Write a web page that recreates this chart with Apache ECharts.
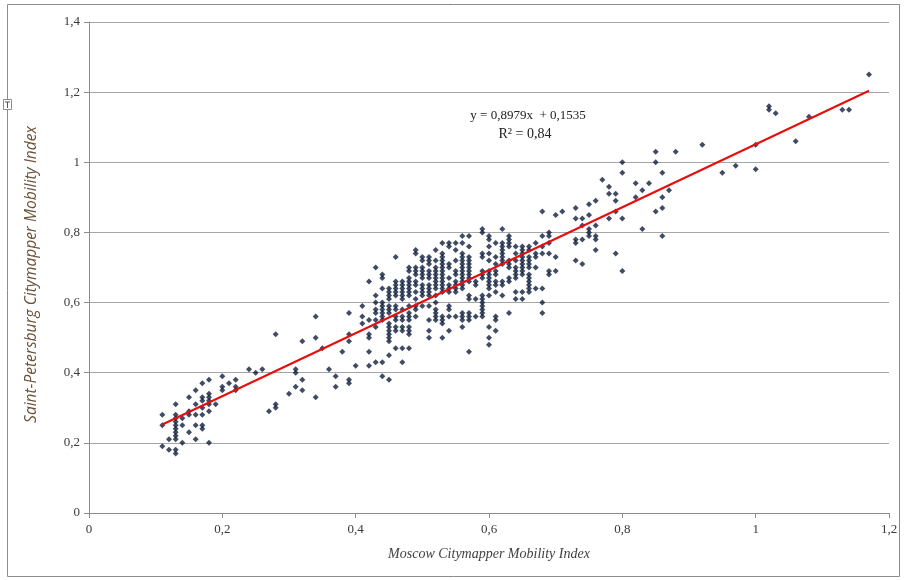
<!DOCTYPE html>
<html>
<head>
<meta charset="utf-8">
<script src="https://cdn.jsdelivr.net/npm/echarts@6/dist/echarts.min.js"></script>
<style>html,body{margin:0;padding:0;background:#fff;}#c{width:906px;height:580px;}</style>
</head>
<body>
<div id="c"></div>
<script>
// Moscow index values (x columns) and the Saint-Petersburg values observed at each
const moscowX = [0.11,0.12,0.13,0.14,0.15,0.16,0.17,0.18,0.19,0.20,0.21,0.22,0.24,0.25,0.26,0.27,0.28,0.30,0.31,0.32,0.34,0.35,0.36,0.37,0.38,0.39,0.40,0.41,0.42,0.43,0.44,0.45,0.46,0.47,0.48,0.49,0.50,0.51,0.52,0.53,0.54,0.55,0.56,0.57,0.58,0.59,0.60,0.61,0.62,0.63,0.64,0.65,0.66,0.67,0.68,0.69,0.70,0.71,0.73,0.74,0.75,0.76,0.77,0.78,0.79,0.80,0.82,0.83,0.84,0.85,0.86,0.87,0.88,0.92,0.95,0.97,1.00,1.02,1.03,1.06,1.08,1.13,1.14,1.17];
const spbY = [
 [0.28,0.25,0.19],
 [0.21,0.18],
 [0.31,0.28,0.27,0.26,0.25,0.24,0.23,0.22,0.21,0.18,0.17],
 [0.27,0.25,0.20],
 [0.33,0.29,0.28,0.23],
 [0.35,0.31,0.28,0.25,0.21],
 [0.37,0.33,0.32,0.30,0.28,0.25,0.24],
 [0.38,0.34,0.33,0.32,0.31,0.29,0.20],
 [0.31],
 [0.39,0.36,0.35],
 [0.37],
 [0.38,0.36,0.35],
 [0.41],
 [0.40],
 [0.41],
 [0.29],
 [0.51,0.31,0.30],
 [0.34],
 [0.41,0.40,0.36],
 [0.49,0.38,0.35],
 [0.56,0.50,0.33],
 [0.47],
 [0.41],
 [0.39,0.36],
 [0.46],
 [0.57,0.51,0.49,0.38,0.37],
 [0.42],
 [0.59,0.56,0.54],
 [0.66,0.55,0.51,0.50,0.46,0.42],
 [0.70,0.62,0.60,0.58,0.57,0.55,0.53,0.43],
 [0.68,0.67,0.64,0.60,0.59,0.58,0.57,0.56,0.55,0.43,0.39],
 [0.64,0.63,0.62,0.61,0.59,0.58,0.57,0.54,0.53,0.52,0.51,0.50,0.49,0.45,0.38],
 [0.73,0.66,0.65,0.64,0.63,0.62,0.59,0.58,0.56,0.55,0.53,0.52,0.47],
 [0.66,0.65,0.64,0.63,0.62,0.61,0.58,0.56,0.55,0.53,0.52,0.47,0.43],
 [0.70,0.69,0.67,0.66,0.65,0.64,0.63,0.62,0.59,0.57,0.56,0.55,0.53,0.52,0.51,0.47],
 [0.75,0.74,0.70,0.69,0.68,0.66,0.65,0.63,0.61,0.59,0.58,0.56],
 [0.73,0.72,0.70,0.69,0.68,0.67,0.65,0.64,0.63,0.62,0.59],
 [0.73,0.72,0.71,0.69,0.68,0.67,0.65,0.64,0.63,0.62,0.59,0.55,0.52,0.50],
 [0.75,0.72,0.70,0.69,0.68,0.67,0.66,0.65,0.64,0.62,0.60,0.58,0.57,0.56,0.55],
 [0.77,0.74,0.73,0.72,0.71,0.70,0.69,0.68,0.67,0.66,0.65,0.64,0.63,0.56,0.55,0.54,0.50],
 [0.77,0.76,0.71,0.70,0.67,0.65,0.64,0.63,0.59,0.58,0.56,0.52],
 [0.77,0.75,0.72,0.69,0.68,0.66,0.65,0.64,0.63,0.56],
 [0.79,0.77,0.74,0.73,0.72,0.71,0.70,0.69,0.68,0.67,0.66,0.65,0.64,0.57,0.56,0.55,0.53],
 [0.79,0.76,0.73,0.72,0.71,0.70,0.69,0.68,0.67,0.66,0.62,0.61,0.57,0.56,0.55,0.46],
 [0.66,0.65,0.61,0.56],
 [0.81,0.80,0.74,0.73,0.69,0.68,0.67,0.62,0.61,0.60,0.59,0.58,0.57,0.56],
 [0.79,0.78,0.76,0.74,0.72,0.69,0.68,0.67,0.66,0.65,0.64,0.62,0.53,0.50,0.48],
 [0.77,0.73,0.71,0.69,0.68,0.66,0.65,0.63,0.56,0.55,0.52],
 [0.81,0.77,0.76,0.75,0.74,0.73,0.72,0.71,0.66,0.65,0.62],
 [0.79,0.78,0.77,0.76,0.72,0.71,0.70,0.67,0.66,0.57],
 [0.76,0.74,0.72,0.70,0.69,0.68,0.67,0.63,0.61],
 [0.76,0.75,0.74,0.73,0.72,0.71,0.70,0.69,0.68,0.63,0.61],
 [0.76,0.75,0.73,0.72,0.71,0.70,0.68,0.67,0.66,0.65,0.64,0.63],
 [0.77,0.74,0.73,0.70,0.64],
 [0.86,0.79,0.76,0.74,0.64,0.60,0.57],
 [0.80,0.79,0.77,0.74,0.69,0.68],
 [0.85,0.73,0.69],
 [0.86],
 [0.87,0.84,0.78,0.77,0.72],
 [0.84,0.82,0.78,0.71],
 [0.88,0.85,0.81,0.80,0.79],
 [0.89,0.82,0.79,0.78,0.75],
 [0.95],
 [0.93,0.91,0.84],
 [0.91,0.89,0.86,0.74],
 [1.00,0.97,0.84,0.69],
 [0.94,0.90],
 [0.92,0.81],
 [0.94],
 [1.03,1.00,0.86],
 [0.97,0.90,0.87,0.79],
 [0.92],
 [1.03],
 [1.05],
 [0.97],
 [0.99],
 [1.05,0.98],
 [1.16,1.15],
 [1.14],
 [1.06],
 [1.13],
 [1.15],
 [1.15],
 [1.25]
];
// regression line as given on the chart
const trendSlope = 0.8979;
const trendIntercept = 0.1535;
const trendRangeX = [0.11, 1.17];
const equationText = ['y = 0,8979x  + 0,1535', 'R\u00b2 = 0,84'];
const xTickLabels = ['0','0,2','0,4','0,6','0,8','1','1,2'];
const yTickLabels = ['0','0,2','0,4','0,6','0,8','1','1,2','1,4'];
const xName = 'Moscow Citymapper Mobility Index';
const yName = 'Saint-Petersburg Citymapper Mobility Index';

const points = [];
moscowX.forEach((x, i) => spbY[i].forEach(y => points.push([x, y])));
const trend = trendRangeX.map(x => [x, trendSlope * x + trendIntercept]);

const chart = echarts.init(document.getElementById('c'), null, {renderer: 'canvas'});
const labelFont = {fontFamily: 'Liberation Serif', fontSize: 13, color: '#3a3a3a'};
chart.setOption({
  animation: false,
  backgroundColor: '#ffffff',
  grid: {left: 89, right: 17, top: 22, bottom: 67, containLabel: false},
  xAxis: {
    type: 'value', min: 0, max: 1.2, interval: 0.2,
    name: xName, nameLocation: 'middle', nameGap: 34,
    nameTextStyle: {fontFamily: 'Liberation Serif', fontStyle: 'italic', fontSize: 14, color: '#404040'},
    axisLine: {show: true, lineStyle: {color: '#8c8c8c', width: 1}},
    axisTick: {show: true, length: 5, lineStyle: {color: '#8c8c8c'}},
    splitLine: {show: false},
    axisLabel: Object.assign({margin: 10, formatter: v => xTickLabels[Math.round(v / 0.2)]}, labelFont)
  },
  yAxis: {
    type: 'value', min: 0, max: 1.4, interval: 0.2,
    name: yName, nameLocation: 'middle', nameGap: 49, nameRotate: 90,
    nameTextStyle: {fontFamily: 'Open Sans', fontStyle: 'italic', fontSize: 15.5, color: '#6a5236', padding: [0, 14, 0, 0]},
    axisLine: {show: true, lineStyle: {color: '#8c8c8c', width: 1}},
    axisTick: {show: true, length: 5, lineStyle: {color: '#8c8c8c'}},
    splitLine: {show: true, lineStyle: {color: '#a6a6a6', width: 1}},
    axisLabel: Object.assign({margin: 9, formatter: v => yTickLabels[Math.round(v / 0.2)]}, labelFont)
  },
  series: [
    {
      type: 'scatter', data: points, symbol: 'diamond', symbolSize: 6,
      itemStyle: {color: '#0f1f3d'}, z: 2
    },
    {
      type: 'line', data: trend, showSymbol: false, symbol: 'none',
      lineStyle: {color: '#e80c0c', width: 2}, z: 3
    }
  ],
  graphic: [
    {type: 'rect', shape: {x: 7.5, y: 4.5, width: 892, height: 572}, style: {fill: 'none', stroke: '#8c8c8c', lineWidth: 1}, silent: true, z: -1},
    {type: 'rect', shape: {x: 3.5, y: 99.5, width: 8, height: 10}, style: {fill: '#fff', stroke: '#8c8c8c', lineWidth: 1}},
    {type: 'line', shape: {x1: 5, y1: 102, x2: 10, y2: 102}, style: {stroke: '#555', lineWidth: 1}},
    {type: 'line', shape: {x1: 7.5, y1: 102, x2: 7.5, y2: 108}, style: {stroke: '#555', lineWidth: 1}},
    {type: 'text', x: 528, y: 116, style: {text: equationText[0], fontFamily: 'Liberation Serif', fontSize: 13, fill: '#222', align: 'center', verticalAlign: 'middle'}},
    {type: 'text', x: 525, y: 134, style: {text: equationText[1], fontFamily: 'Liberation Serif', fontSize: 14, fill: '#222', align: 'center', verticalAlign: 'middle'}}
  ]
});
</script>
</body>
</html>
